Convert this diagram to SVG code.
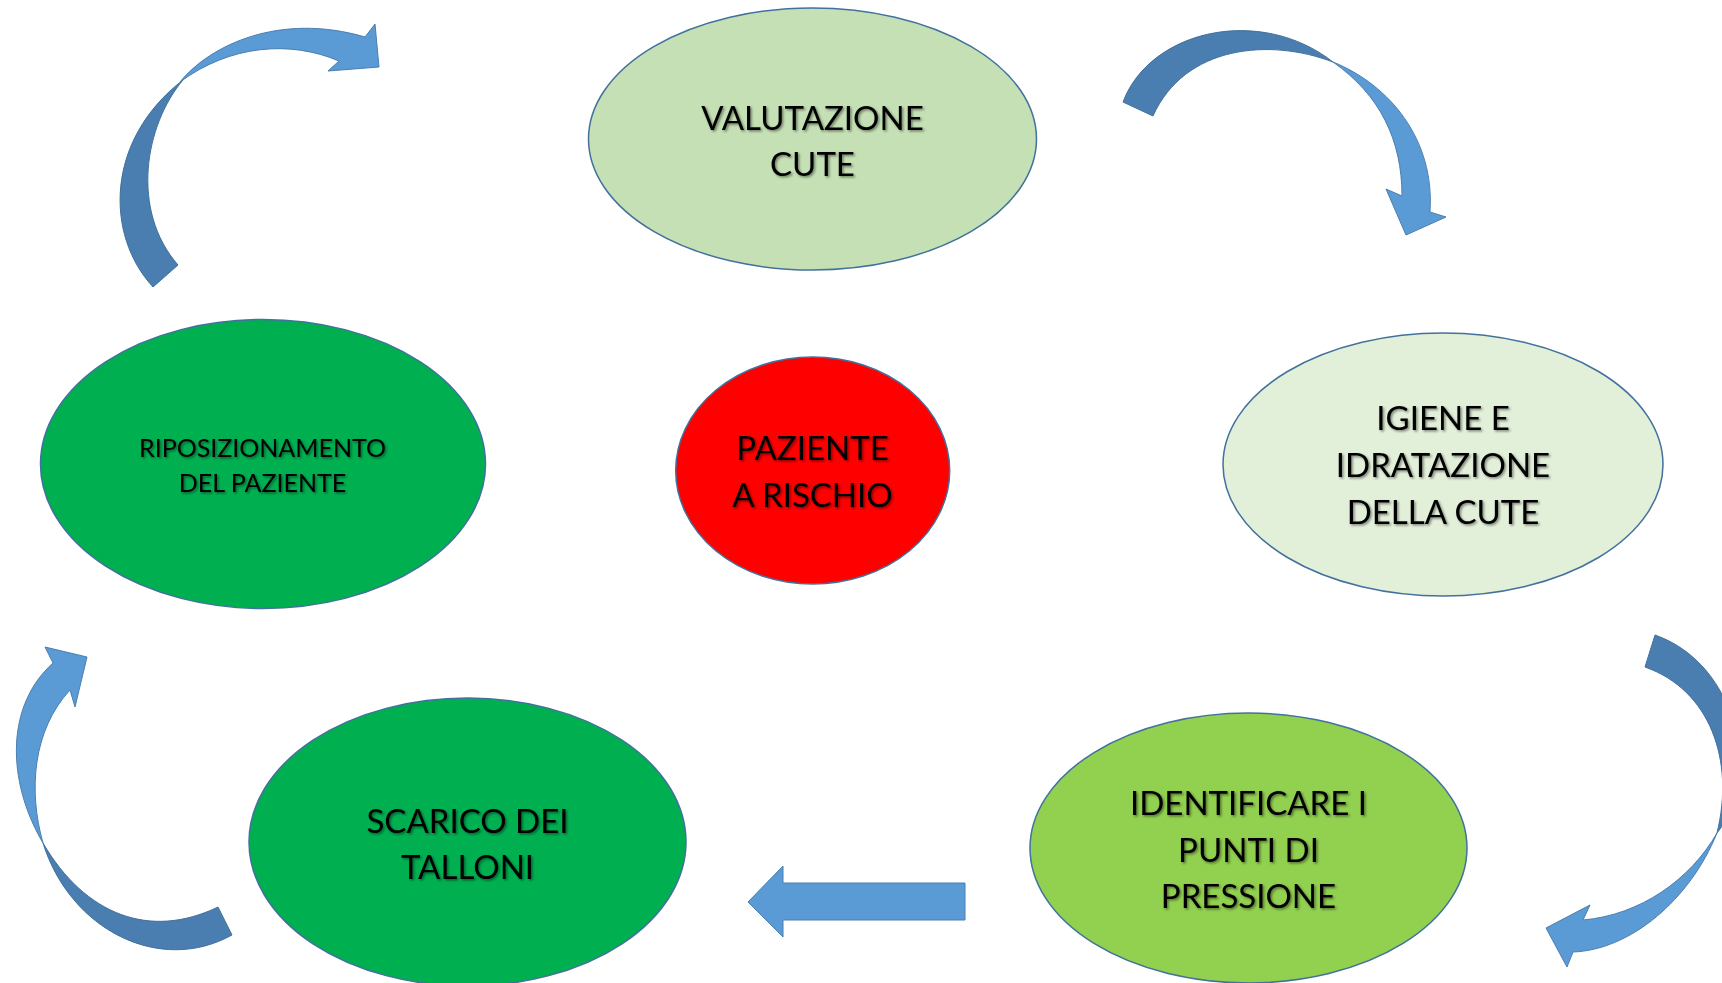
<svg xmlns="http://www.w3.org/2000/svg" width="1722" height="983" viewBox="0 0 1722 983">
  <defs>
    <filter id="ts" x="-10%" y="-30%" width="120%" height="160%">
      <feDropShadow dx="1.5" dy="1.5" stdDeviation="1" flood-color="#000" flood-opacity="0.45"/>
    </filter>
  </defs>
  <style>
    .node { stroke: #41719C; stroke-width: 1.5; }
    .lbl { font-family: Lato, "Liberation Sans", sans-serif; font-size: 33px; fill: #000; text-anchor: middle; filter: url(#ts); }
    .sm { font-size: 25px; }
    .light { fill: #5B9BD5; stroke: #4A7EB0; stroke-width: 1; }
    .dark { fill: #4A7EB0; stroke: #41719C; stroke-width: 1; }
  </style>
  <rect width="1722" height="983" fill="#ffffff"/>

  <g id="connectors">
    <g id="arrow-top-left">
      <path class="dark" d="M153,287 C105,235 105,140 183,80 C145,125 130,210 178,265 Z"/>
      <path class="light" d="M180,82 C210,45 280,12 365,37 L375,24 L379,67 L328,71 L339,61 C290,40 230,45 180,82 Z"/>
    </g>
    <g id="arrow-top-right">
      <path class="dark" d="M1123,102 C1150,30 1260,5 1333,62 C1270,38 1185,45 1153,116 Z"/>
      <path class="light" d="M1333,62 C1390,85 1435,140 1430,212 L1446,217 L1406,235 L1386,189 L1402,196 C1402,140 1380,95 1333,62 Z"/>
    </g>
    <g id="arrow-right">
      <path class="dark" d="M1655,635 C1740,665 1760,780 1717,833 C1735,760 1710,690 1645,667 Z"/>
      <path class="light" d="M1717,833 C1690,900 1630,950 1573,952 L1567,967 L1546,928 L1590,905 L1583,920 C1640,915 1690,880 1717,833 Z"/>
    </g>
    <g id="arrow-bottom-left">
      <path class="light" d="M43,843 C6,780 6,705 53,663 L45,647 L87,657 L75,707 L70,690 C33,730 28,790 43,843 Z"/>
      <path class="dark" d="M43,843 C70,930 160,975 232,935 L218,907 C150,940 85,915 43,843 Z"/>
    </g>
    <path id="arrow-straight" class="light" d="M748,902 L783,866 L783,883 L965,883 L965,920 L783,920 L783,937 Z"/>
  </g>

  <g id="valutazione">
    <ellipse class="node" cx="812.5" cy="139" rx="224" ry="131" fill="#C5E0B4"/>
    <text class="lbl" x="812.5" y="130">VALUTAZIONE</text>
    <text class="lbl" x="812.5" y="176">CUTE</text>
  </g>

  <g id="paziente">
    <ellipse class="node" cx="812.7" cy="470.5" rx="137" ry="113.5" fill="#FF0000"/>
    <text class="lbl" x="812.5" y="460">PAZIENTE</text>
    <text class="lbl" x="812.5" y="507">A RISCHIO</text>
  </g>

  <g id="riposizionamento">
    <ellipse class="node" cx="263" cy="464" rx="222.5" ry="144.5" fill="#00B050"/>
    <text class="lbl sm" x="262.5" y="457">RIPOSIZIONAMENTO</text>
    <text class="lbl sm" x="262.5" y="492">DEL PAZIENTE</text>
  </g>

  <g id="igiene">
    <ellipse class="node" cx="1443" cy="464.5" rx="220" ry="131.5" fill="#E2EFD9"/>
    <text class="lbl" x="1443" y="430">IGIENE E</text>
    <text class="lbl" x="1443" y="477">IDRATAZIONE</text>
    <text class="lbl" x="1443" y="524">DELLA CUTE</text>
  </g>

  <g id="identificare">
    <ellipse class="node" cx="1248.5" cy="848" rx="218.5" ry="135" fill="#92D050"/>
    <text class="lbl" x="1248.5" y="815">IDENTIFICARE I</text>
    <text class="lbl" x="1248.5" y="862">PUNTI DI</text>
    <text class="lbl" x="1248.5" y="908">PRESSIONE</text>
  </g>

  <g id="scarico">
    <ellipse class="node" cx="467.5" cy="842" rx="218.5" ry="144" fill="#00B050"/>
    <text class="lbl" x="467.5" y="833">SCARICO DEI</text>
    <text class="lbl" x="467.5" y="879">TALLONI</text>
  </g>
</svg>
